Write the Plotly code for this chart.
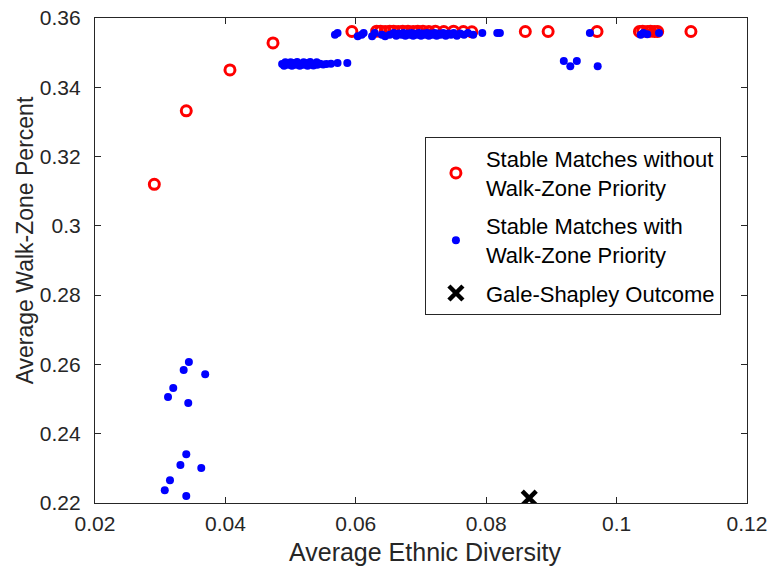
import plotly.graph_objects as go

# Stable matches without walk-zone priority (red open circles)
red_x = [0.0291, 0.0340, 0.0407, 0.0473,
         0.0594, 0.0632, 0.0638, 0.0645, 0.0652, 0.0658, 0.0665, 0.0672,
         0.0680, 0.0688, 0.0695, 0.0703, 0.0712, 0.0722, 0.0735, 0.0750,
         0.0765, 0.0778, 0.0860, 0.0895, 0.0970, 0.1035, 0.1040, 0.1047,
         0.1052, 0.1058, 0.1063, 0.1114]
red_y = [0.3120, 0.3332, 0.3450, 0.3528,
         0.3561, 0.3562, 0.3562, 0.3561, 0.3562, 0.3562, 0.3561, 0.3562,
         0.3562, 0.3561, 0.3562, 0.3562, 0.3561, 0.3562, 0.3561, 0.3562,
         0.3561, 0.3560, 0.3561, 0.3561, 0.3561, 0.3561, 0.3562, 0.3561,
         0.3562, 0.3561, 0.3561, 0.3561]

# Stable matches with walk-zone priority (blue dots)
blue_x = [
    # lower-left group
    0.0344, 0.0336, 0.0369, 0.0320, 0.0312, 0.0343,
    0.0340, 0.0331, 0.0363, 0.0315, 0.0307, 0.0340,
    # band near 0.347
    0.0487, 0.0490, 0.0493, 0.0496, 0.0499, 0.0502, 0.0505, 0.0508,
    0.0511, 0.0514, 0.0517, 0.0520, 0.0523, 0.0526, 0.0529, 0.0532,
    0.0535, 0.0538, 0.0541, 0.0545, 0.0550, 0.0555, 0.0562, 0.0572,
    0.0587, 0.0492, 0.0500, 0.0510, 0.0520, 0.0530, 0.0540,
    0.0919, 0.0929, 0.0939, 0.0971,
    # top band near 0.356
    0.0568, 0.0572, 0.0603, 0.0609, 0.0612, 0.0625, 0.0629, 0.0640,
    0.0645, 0.0652, 0.0658, 0.0662, 0.0666, 0.0670, 0.0673, 0.0676,
    0.0679, 0.0682, 0.0685, 0.0688, 0.0691, 0.0694, 0.0697, 0.0700,
    0.0703, 0.0706, 0.0709, 0.0712, 0.0715, 0.0718, 0.0721, 0.0724,
    0.0727, 0.0730, 0.0734, 0.0738, 0.0742, 0.0746, 0.0750, 0.0755,
    0.0760, 0.0766, 0.0772, 0.0780, 0.0794, 0.0817, 0.0821,
    0.0959, 0.1037, 0.1041, 0.1047, 0.1065]
blue_y = [
    0.2607, 0.2584, 0.2572, 0.2532, 0.2506, 0.2489,
    0.2341, 0.2310, 0.2301, 0.2266, 0.2237, 0.2220,
    0.3467, 0.3462, 0.3470, 0.3465, 0.3468, 0.3462, 0.3470, 0.3465,
    0.3468, 0.3462, 0.3467, 0.3465, 0.3470, 0.3462, 0.3466, 0.3468,
    0.3463, 0.3467, 0.3465, 0.3468, 0.3466, 0.3467, 0.3468, 0.3470,
    0.3470, 0.3472, 0.3472, 0.3473, 0.3472, 0.3473, 0.3472,
    0.3476, 0.3461, 0.3476, 0.3461,
    0.3552, 0.3557, 0.3547, 0.3552, 0.3557, 0.3547, 0.3557, 0.3552,
    0.3547, 0.3552, 0.3557, 0.3549, 0.3555, 0.3552, 0.3557, 0.3549,
    0.3555, 0.3552, 0.3557, 0.3549, 0.3555, 0.3552, 0.3557, 0.3549,
    0.3555, 0.3552, 0.3557, 0.3549, 0.3555, 0.3552, 0.3557, 0.3549,
    0.3555, 0.3552, 0.3557, 0.3549, 0.3555, 0.3552, 0.3557, 0.3549,
    0.3555, 0.3552, 0.3557, 0.3552, 0.3557, 0.3557, 0.3557,
    0.3557, 0.3552, 0.3557, 0.3553, 0.3557]

# Gale-Shapley outcome
gs_x = [0.0866]
gs_y = [0.2214]

x_ticks = [0.02, 0.04, 0.06, 0.08, 0.10, 0.12]
x_tick_text = ["0.02", "0.04", "0.06", "0.08", "0.1", "0.12"]
y_ticks = [0.22, 0.24, 0.26, 0.28, 0.30, 0.32, 0.34, 0.36]
y_tick_text = ["0.22", "0.24", "0.26", "0.28", "0.3", "0.32", "0.34", "0.36"]

FONT = "Liberation Sans, Arial, sans-serif"
AX = "#262626"

fig = go.Figure()
fig.add_trace(go.Scatter(
    x=red_x, y=red_y, mode="markers", legendgroup="a",
    name="Stable Matches without<br>Walk-Zone Priority",
    marker=dict(symbol="circle-open", size=10, color="#ff0000",
                line=dict(width=3, color="#ff0000")),
))
fig.add_trace(go.Scatter(
    x=blue_x, y=blue_y, mode="markers", legendgroup="b",
    name="Stable Matches with<br>Walk-Zone Priority",
    marker=dict(symbol="circle", size=8, color="#0000ff", line=dict(width=0)),
))
fig.add_trace(go.Scatter(
    x=gs_x, y=gs_y, mode="markers", legendgroup="c",
    name="Gale-Shapley Outcome",
    marker=dict(symbol="x-thin", size=14, color="#000000",
                line=dict(width=4.5, color="#000000")),
))

axis_common = dict(
    showgrid=False, zeroline=False, automargin=False,
    showline=True, linecolor=AX, linewidth=1.2, mirror="ticks",
    ticks="inside", ticklen=6, tickwidth=1, tickcolor=AX,
    tickfont=dict(family=FONT, size=21, color=AX),
)

fig.update_xaxes(range=[0.02, 0.12], tickvals=x_ticks, ticktext=x_tick_text,
                 ticklabelstandoff=2, **axis_common)
fig.update_yaxes(range=[0.22, 0.36], tickvals=y_ticks, ticktext=y_tick_text,
                 ticklabelstandoff=9, **axis_common)

fig.add_annotation(text="Average Ethnic Diversity", xref="paper", yref="paper",
                   x=0.506, y=-0.068, xanchor="center", yanchor="top",
                   showarrow=False,
                   font=dict(family=FONT, size=25, color=AX))
fig.add_annotation(text="Average Walk-Zone Percent", xref="paper", yref="paper",
                   x=-0.107, y=0.542, xanchor="center", yanchor="middle",
                   textangle=-90, showarrow=False,
                   font=dict(family=FONT, size=23, color=AX))

fig.update_layout(
    width=771, height=566,
    margin=dict(l=95, r=24, t=18, b=63),
    paper_bgcolor="white", plot_bgcolor="white",
    font=dict(family=FONT, color="#000000"),
    showlegend=True,
    legend=dict(
        x=0.506, y=0.755, xanchor="left", yanchor="top",
        bgcolor="white", bordercolor=AX, borderwidth=1,
        font=dict(family=FONT, size=22, color="#000000"),
        itemsizing="trace", tracegroupgap=7, itemwidth=50,
    ),
)

fig.write_html("out.html")
